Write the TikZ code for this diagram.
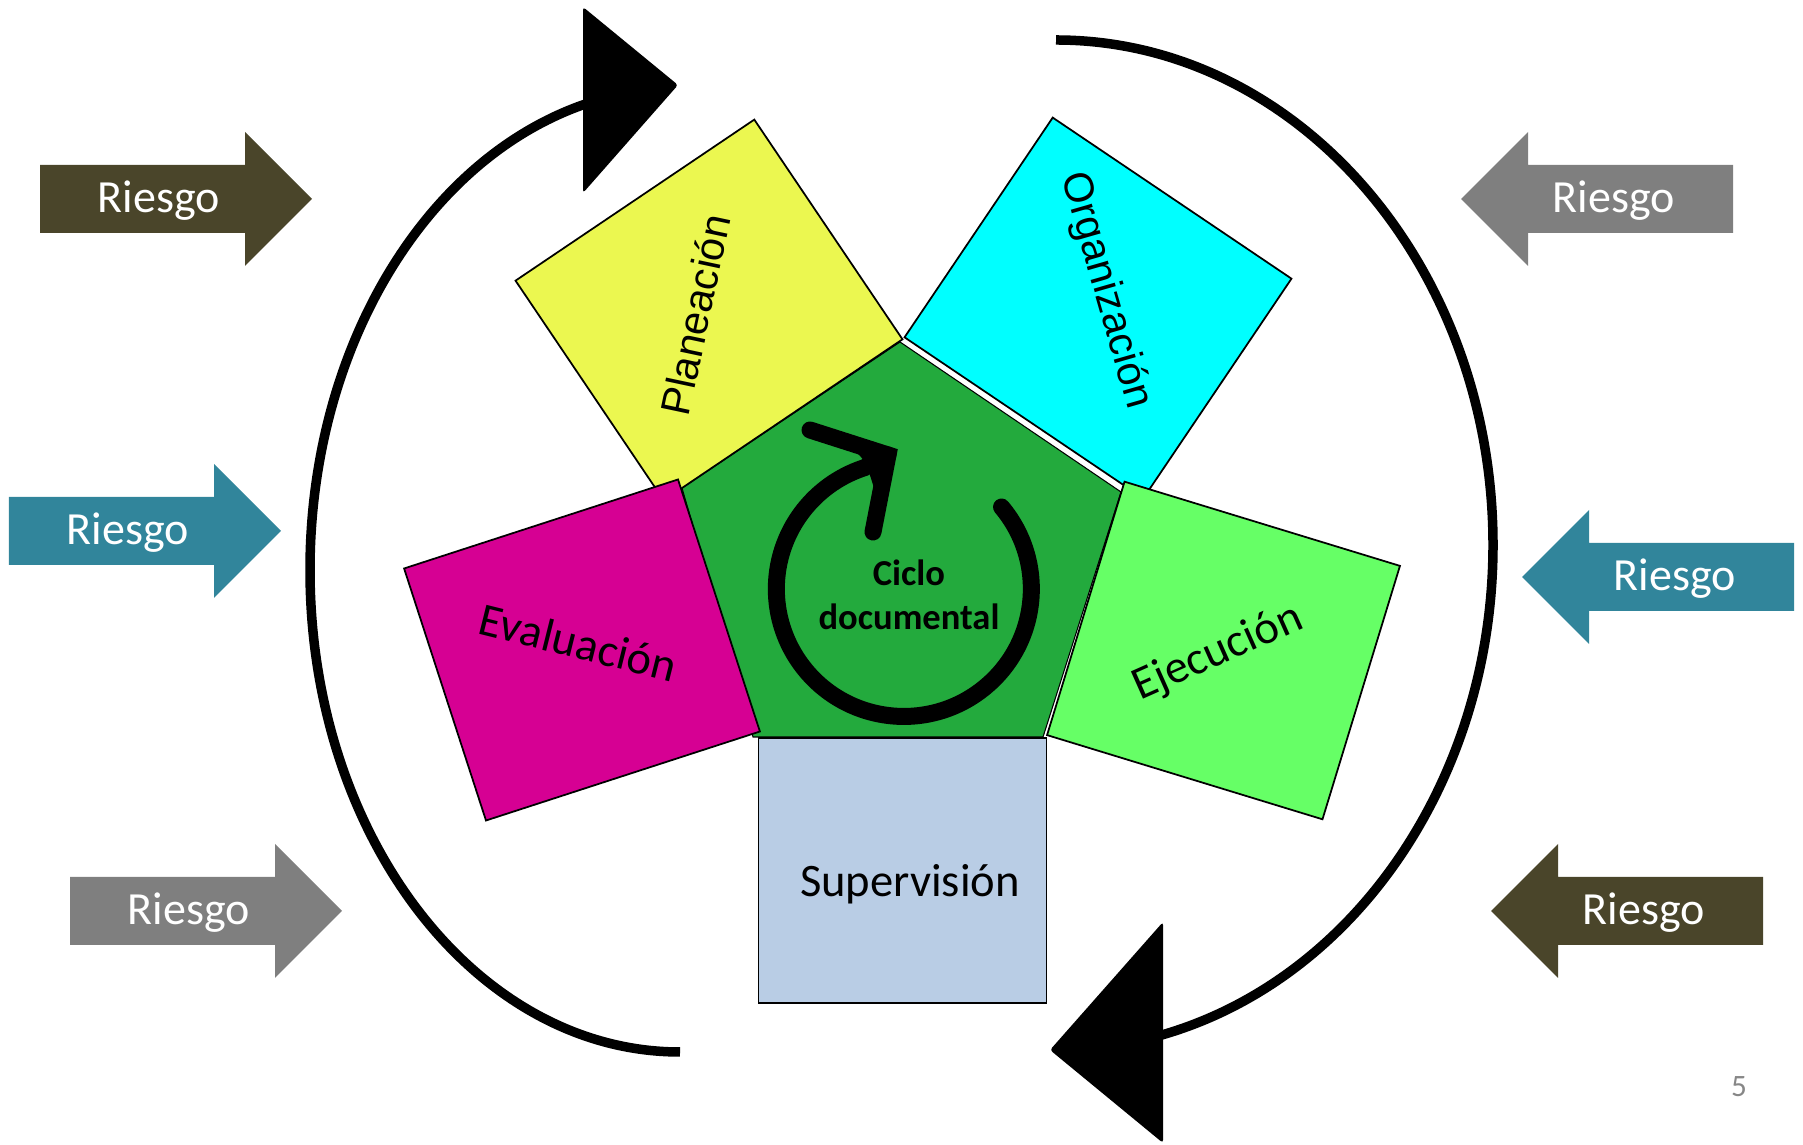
\documentclass[tikz,border=0pt]{standalone}
\usepackage{fontspec}
\setmainfont{Carlito}
\newfontfamily\arialfont{Liberation Sans}

\definecolor{olivec}{RGB}{74,69,42}
\definecolor{tealc}{RGB}{49,133,155}
\definecolor{grayc}{RGB}{127,127,127}
\definecolor{planc}{RGB}{235,247,80}
\definecolor{orgc}{RGB}{0,255,255}
\definecolor{evalc}{RGB}{214,0,147}
\definecolor{ejecc}{RGB}{102,255,102}
\definecolor{supc}{RGB}{185,205,229}
\definecolor{cicloc}{RGB}{35,170,61}

\tikzset{
    stage/.style={draw, line width=1pt, minimum width=5.76cm, minimum height=5.30cm},
    arialtxt/.style={anchor=base, font=\arialfont\fontsize{23.5pt}{28pt}\selectfont},
    calitxt/.style={anchor=base, font=\fontsize{26.5pt}{30pt}\selectfont},
    risk/.style={anchor=base, text=white, font=\fontsize{26.2pt}{30pt}\selectfont},
    bigloop/.style={line width=0.19cm},
    ring/.style={line width=0.34cm, line cap=round, line join=miter}
}

\newcommand{\riesgo}[5]{%
    \begin{scope}[shift={(#2,#3)}, xscale=#4]
        \fill[#5] (0,0.68) -- (4.1,0.68) -- (4.1,1.34) -- (5.44,0)
            -- (4.1,-1.34) -- (4.1,-0.68) -- (0,-0.68) -- cycle;
    \end{scope}
    \node[risk] (#1) at ({#2+#4*2.38},{#3-0.28}) {Riesgo};}

\begin{document}
\begin{tikzpicture}
        \useasboundingbox (0,0) rectangle (36.06,22.9);

        \draw[bigloop] (13.6,1.86) arc[start angle=-90, end angle=-255, x radius=7.4, y radius=9.64];
        \fill[rounded corners=0.06cm] (11.66,22.76) -- (13.56,21.2) -- (11.66,19.04) -- cycle;
        \draw[bigloop] (21.12,22.1) arc[start angle=90, end angle=-76, x radius=8.74, y radius=10.1];
        \fill[rounded corners=0.06cm] (23.26,4.46) -- (21.0,1.9) -- (23.26,0.04) -- cycle;

        \riesgo{r1}{0.8}{18.92}{1}{olivec}
        \riesgo{r2}{0.18}{12.28}{1}{tealc}
        \riesgo{r3}{1.4}{4.68}{1}{grayc}
        \riesgo{r4}{34.66}{18.92}{-1}{grayc}
        \riesgo{r5}{35.88}{11.36}{-1}{tealc}
        \riesgo{r6}{35.26}{4.68}{-1}{olivec}

        \filldraw[fill=cicloc, line width=0.6pt]
            (18.0,16.06) -- (22.42,13.06) -- (20.86,8.16) -- (15.06,8.16) -- (13.64,13.14) -- cycle;

        \node[stage, fill=planc, rotate=34] (plan) at (14.18,16.70) {};
        \node[stage, fill=orgc, rotate=-34] (org) at (21.96,16.74) {};
        \node[stage, fill=ejecc, rotate=-17] (ejec) at (24.47,9.89) {};
        \node[stage, fill=evalc, rotate=18] (eval) at (11.64,9.90) {};
        \node[stage, fill=supc] (sup) at (18.05,5.49) {};

        \node[arialtxt, rotate=78] (tplan) at (14.2,16.54) {Planeación};
        \node[arialtxt, rotate=-74] (torg) at (21.9,17.03) {Organización};
        \node[calitxt, rotate=-14] (teval) at (11.49,9.74) {Evaluación};
        \node[calitxt, rotate=24] (tejec) at (24.46,9.62) {Ejecución};
        \node[calitxt] (tsup) at (18.2,4.96) {Supervisión};

        \draw[ring] (20.03,12.76) arc[start angle=40, end angle=-252, radius=2.55] -- (17.76,13.8);
        \draw[ring] (16.2,14.3) -- (17.76,13.8) -- (17.46,12.26);
        \fill (17.76,13.8) -- (16.85,14.05) .. controls (17.3,13.75) .. (17.55,12.9) -- cycle;
        \node[align=center, font=\bfseries\fontsize{20.8pt}{25pt}\selectfont] (ciclo) at (18.18,11.01) {Ciclo\\documental};

        \node[text=black!47, font=\fontsize{17.7pt}{20pt}\selectfont] (page) at (34.78,1.16) {5};
    \end{tikzpicture}
\end{document}
